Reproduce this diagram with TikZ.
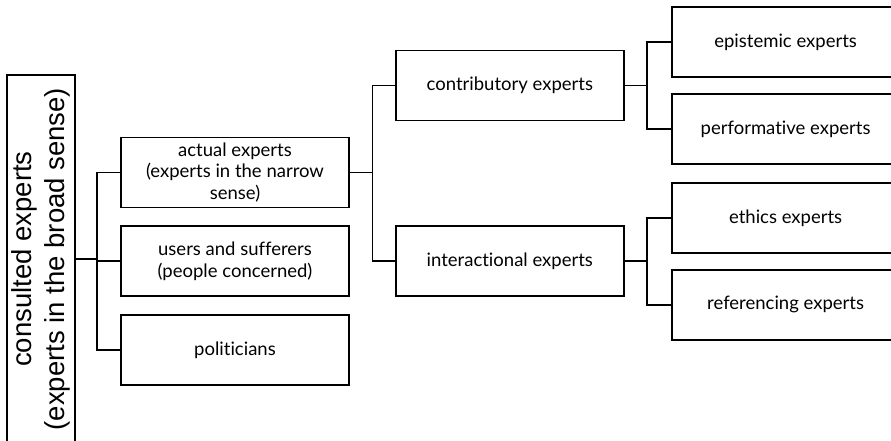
\documentclass[tikz,border=0pt]{standalone}
\usepackage{fontspec}
\usepackage{tikz}
\usepackage{xcolor}
\setmainfont{Lato}[Ligatures={NoCommon,NoContextual}]
\newfontfamily\rootfont{Liberation Sans}
\usetikzlibrary{positioning, calc}
\definecolor{cLine}{RGB}{0,0,0}
\tikzset{
	expbox/.style  ={rectangle, draw=cLine, line width=1.8pt, minimum width=228pt, minimum height=70pt, align=center, fill=white, font=\fontsize{18.5}{21.5}\selectfont},
	rootbox/.style ={rectangle, draw=cLine, line width=1.8pt, minimum width=368pt, minimum height=68pt, align=center, rotate=90, font=\rootfont\fontsize{27.5}{33}\selectfont},
	% tree connectors
	link/.style    ={draw=cLine, line width=1.8pt},
}

\begin{document}
\begin{tikzpicture}
	\useasboundingbox (0,0) rectangle (891pt,-441pt);
	\node[rootbox] (root) at (41pt,-259pt) {consulted experts\\(experts in the broad sense)};
	% first level
	\node[expbox] (actual) at (235pt,-172.5pt) {actual experts\\(experts in the narrow\\sense)};
	\node[expbox, below=17pt of actual] (users) {users and sufferers\\(people concerned)};
	\node[expbox, below=17pt of users] (polit) {politicians};
	% second level
	\node[expbox, right=45pt of actual, yshift=87pt] (contrib) {contributory experts};
	\node[expbox, right=45pt of users] (interact) {interactional experts};
	% third level
	\node[expbox, right=46pt of contrib, yshift=43.5pt] (epist) {epistemic experts};
	\node[expbox, right=46pt of contrib, yshift=-43.5pt] (perf) {performative experts};
	\node[expbox, right=46pt of interact, yshift=43.5pt] (ethics) {ethics experts};
	\node[expbox, right=46pt of interact, yshift=-43.5pt] (refer) {referencing experts};
	% junctions
	\coordinate (j1) at ([xshift=-23pt]actual.west);
	\coordinate (j2) at ([xshift=-22.5pt]contrib.west |- actual.east);
	\coordinate (j3) at ([xshift=-24pt]epist.west |- contrib.east);
	\coordinate (j4) at ([xshift=-24pt]ethics.west |- interact.east);
	\draw[link] (root.south) -- (root.south -| j1);
	\draw[link] (actual.west) -- (j1) |- (polit.west);
	\draw[link] (j1 |- users.west) -- (users.west);
	\draw[link] (actual.east) -- (j2);
	\draw[link] (contrib.west) -| (j2) |- (interact.west);
	\draw[link] (contrib.east) -- (j3);
	\draw[link] (epist.west) -| (j3) |- (perf.west);
	\draw[link] (interact.east) -- (j4);
	\draw[link] (ethics.west) -| (j4) |- (refer.west);
\end{tikzpicture}
\end{document}
